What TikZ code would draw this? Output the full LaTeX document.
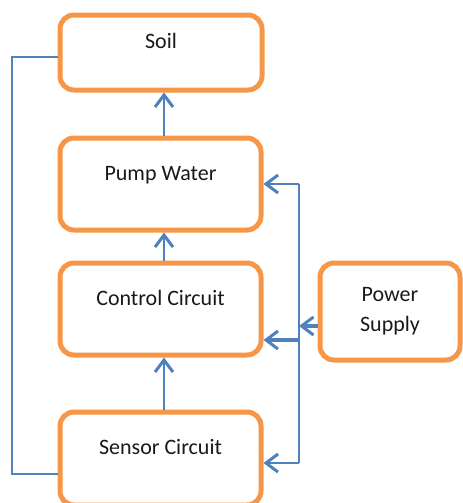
\documentclass[tikz,border=0pt]{standalone}
\usepackage{fontspec}
\setmainfont{Carlito}
\usetikzlibrary{arrows.meta}
\definecolor{boxorange}{RGB}{247,150,70}
\definecolor{linkblue}{RGB}{79,129,189}
\begin{document}
\begin{tikzpicture}[x=0.5pt, y=-0.5pt,
    every node/.style={font=\fontsize{11}{15}\selectfont, text=black!90},
    >={Straight Barb[length=6pt,width=9pt,line width=1.5pt]},
    block/.style={draw=boxorange, line width=2.5pt, rounded corners=7pt, minimum width=100.5pt, minimum height=46pt},
    unit/.style={block, text height=8pt, text depth=12pt},
    link/.style={draw=linkblue, line width=1.25pt}]
  \useasboundingbox (0,0) rectangle (462,503);

  \node[unit, minimum width=101pt, minimum height=37.5pt] (soil) at (161,52.5) {Soil};
  \node[unit] (pump) at (160.5,184) {Pump Water};
  \node[unit] (control) at (160.5,309) {Control Circuit};
  \node[unit, minimum height=46.5pt] (sensor) at (160.5,458.5) {Sensor Circuit};
  \node[block, align=center, minimum width=70pt, minimum height=48.5pt] (power) at (390,311.5) {Power\\ Supply};

  \coordinate (spine) at (164,0);
  \coordinate (loopT) at (12,57);
  \coordinate (loopB) at (12,474);
  \coordinate (busT) at (299,184);
  \coordinate (busB) at (299,463);
  \coordinate (busP) at (299,326);
  \coordinate (busC) at (299,340);

  \draw[link, ->] (pump.north -| spine) -- (soil.south -| spine);
  \draw[link, ->] (control.north -| spine) -- (pump.south -| spine);
  \draw[link, ->] (sensor.north -| spine) -- (control.south -| spine);
  \draw[link] (soil.west |- loopT) -| (loopB) -- (sensor.west |- loopB);
  \draw[link] (busT) -- (busB);
  \draw[link, ->] (busT) -- (pump.east);
  \draw[link, ->] (busB) -- (sensor.east |- busB);
  \draw[link, ->, line width=1.9pt] (busC) -- (control.east |- busC);
  \draw[link, ->, line width=1.9pt] (power.west |- busP) -- (busP);
\end{tikzpicture}
\end{document}
